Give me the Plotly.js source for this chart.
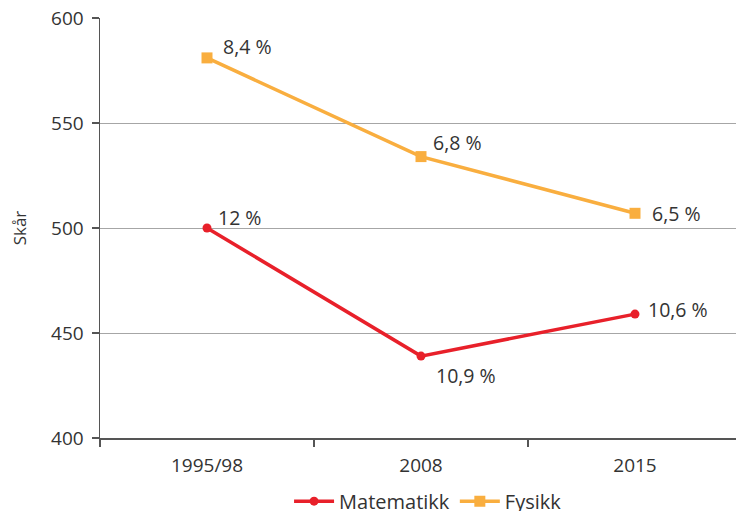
<!DOCTYPE html>
<html>
<head>
<meta charset="utf-8">
<script src="https://cdn.plot.ly/plotly-3.0.1.min.js"></script>
<style>
html,body{margin:0;padding:0;overflow:hidden;background:#fff;}
#chart{width:742px;height:511px;}
</style>
</head>
<body>
<div id="chart"></div>
<script>
const categories = ["1995/98", "2008", "2015"];
const matematikk = [500, 439, 459];
const fysikk = [581, 534, 507];
const matLabels = ["12 %", "10,9 %", "10,6 %"];
const fysLabels = ["8,4 %", "6,8 %", "6,5 %"];
const yTicks = [400, 450, 500, 550, 600];

const red = "#e8202a";
const orange = "#f9ae3f";
const textColor = "#333333";
const fontFam = "'Open Sans', Lato, sans-serif";

const traces = [
  {x: categories, y: matematikk, name: "Matematikk", type: "scatter", mode: "lines+markers",
   line: {color: red, width: 3.5}, marker: {color: red, size: 9, symbol: "circle"}},
  {x: categories, y: fysikk, name: "Fysikk", type: "scatter", mode: "lines+markers",
   line: {color: orange, width: 3.5}, marker: {color: orange, size: 11, symbol: "square"}}
];

const matOffsets = [[9, 11], [13, -19], [11, 5]];
const fysOffsets = [[14, 11], [10, 14], [15, 0]];
const annotations = [];
categories.forEach((c, i) => {
  annotations.push({x: i, y: matematikk[i], xref: "x", yref: "y", text: matLabels[i], showarrow: false,
    xanchor: "left", yanchor: "middle", xshift: matOffsets[i][0], yshift: matOffsets[i][1],
    font: {family: fontFam, size: 19.5, color: textColor}});
  annotations.push({x: i, y: fysikk[i], xref: "x", yref: "y", text: fysLabels[i], showarrow: false,
    xanchor: "left", yanchor: "middle", xshift: fysOffsets[i][0], yshift: fysOffsets[i][1],
    font: {family: fontFam, size: 19.5, color: textColor}});
});

const layout = {
  width: 742, height: 511,
  margin: {l: 100, r: 0, t: 18, b: 73, autoexpand: false},
  paper_bgcolor: "#fff", plot_bgcolor: "#fff",
  font: {family: fontFam, size: 19, color: textColor},
  showlegend: true,
  legend: {orientation: "h", x: 0.511, xanchor: "center", y: -0.104, yanchor: "top",
    font: {family: fontFam, size: 20, color: textColor}, itemwidth: 40, tracegroupgap: 0},
  xaxis: {type: "category", range: [-0.5, 2.5], showline: true, linecolor: "#555", linewidth: 1.5,
    ticks: "outside", tickson: "boundaries", ticklen: 7, tickcolor: "#555", tickwidth: 1.5,
    showgrid: false, zeroline: false, ticklabelstandoff: 10,
    tickfont: {family: fontFam, size: 19, color: textColor}},
  yaxis: {range: [400, 600], tickvals: yTicks, showline: true, linecolor: "#555", linewidth: 1.5,
    ticks: "outside", ticklen: 7, tickcolor: "#555", tickwidth: 1.5,
    showgrid: true, gridcolor: "#a6a6a6", gridwidth: 1, zeroline: false, ticklabelstandoff: 4,
    tickfont: {family: fontFam, size: 19, color: textColor},
    title: {text: "Skår", standoff: 20, font: {family: fontFam, size: 17, color: textColor}}},
  annotations: annotations
};

Plotly.newPlot("chart", traces, layout, {displayModeBar: false, staticPlot: true});
</script>
</body>
</html>
